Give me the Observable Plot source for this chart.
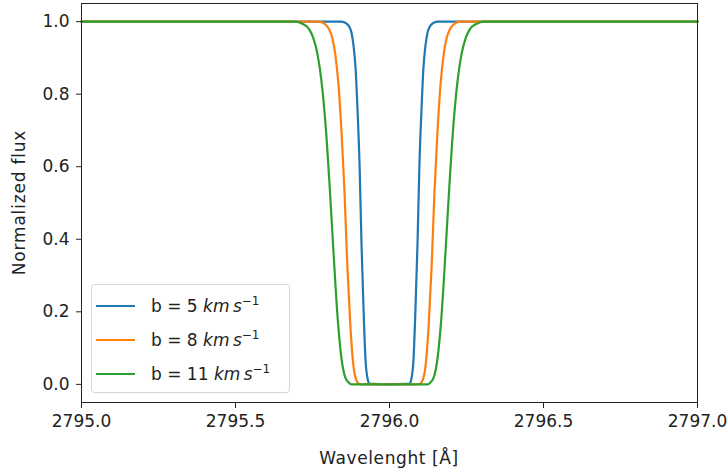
<!DOCTYPE html>
<html><head><meta charset="utf-8">
<script src="https://cdn.jsdelivr.net/npm/d3@7"></script>
<script src="https://cdn.jsdelivr.net/npm/@observablehq/plot@0.6"></script>
<style>body{margin:0;background:#fff} #chart svg{font-family:"DejaVu Sans";}</style>
</head><body><div id="chart"></div>
<script>
const seriesLabels = ["b = 5", "b = 8", "b = 11"];
const seriesColors = ["#1f77b4", "#ff7f0e", "#2ca02c"];

const wavelength_b5 = [2795.0, 2795.844, 2795.860, 2795.870, 2795.877, 2795.883, 2795.890, 2795.896, 2795.903, 2795.909, 2795.916, 2795.922, 2795.929, 2795.935, 2796.0, 2796.065, 2796.071, 2796.078, 2796.084, 2796.091, 2796.097, 2796.104, 2796.110, 2796.117, 2796.123, 2796.130, 2796.140, 2796.156, 2797.0];
const flux_b5 = [1.0, 1.0, 0.995, 0.985, 0.968, 0.935, 0.87, 0.76, 0.6, 0.39, 0.2, 0.07, 0.015, 0.002, 0.0, 0.002, 0.015, 0.07, 0.2, 0.39, 0.6, 0.76, 0.87, 0.935, 0.968, 0.985, 0.995, 1.0, 1.0];

const wavelength_b8 = [2795.0, 2795.772, 2795.792, 2795.805, 2795.815, 2795.824, 2795.834, 2795.844, 2795.854, 2795.863, 2795.873, 2795.883, 2795.893, 2795.902, 2795.909, 2796.0, 2796.091, 2796.098, 2796.107, 2796.117, 2796.127, 2796.137, 2796.146, 2796.156, 2796.166, 2796.176, 2796.185, 2796.195, 2796.208, 2796.228, 2797.0];
const flux_b8 = [1.0, 1.0, 0.992, 0.977, 0.953, 0.91, 0.83, 0.70, 0.53, 0.33, 0.16, 0.05, 0.01, 0.001, 0.0, 0.0, 0.0, 0.001, 0.01, 0.05, 0.16, 0.33, 0.53, 0.70, 0.83, 0.91, 0.953, 0.977, 0.992, 1.0, 1.0];

const wavelength_b11 = [2795.0, 2795.691, 2795.720, 2795.740, 2795.753, 2795.766, 2795.779, 2795.792, 2795.805, 2795.818, 2795.831, 2795.844, 2795.857, 2795.870, 2795.877, 2796.0, 2796.123, 2796.130, 2796.143, 2796.156, 2796.169, 2796.182, 2796.195, 2796.208, 2796.221, 2796.234, 2796.247, 2796.260, 2796.280, 2796.309, 2797.0];
const flux_b11 = [1.0, 1.0, 0.993, 0.978, 0.954, 0.911, 0.837, 0.72, 0.556, 0.367, 0.19, 0.072, 0.018, 0.003, 0.0, 0.0, 0.0, 0.003, 0.018, 0.072, 0.19, 0.367, 0.556, 0.72, 0.837, 0.911, 0.954, 0.978, 0.993, 1.0, 1.0];

const xTicks = [2795.0, 2795.5, 2796.0, 2796.5, 2797.0];
const yTicks = [0.0, 0.2, 0.4, 0.6, 0.8, 1.0];
const xTitle = "Wavelenght [Å]";
const yTitle = "Normalized flux";

const series = [[wavelength_b5, flux_b5], [wavelength_b8, flux_b8], [wavelength_b11, flux_b11]];
const rows = [];
series.forEach(([ws, fs], i) => ws.forEach((w, j) => rows.push({w, f: fs[j], s: seriesLabels[i]})));

const W = 728, H = 473, mL = 81, mR = 31, mT = 3, mB = 71;
const FS = 17;
const fmt = d3.format(".1f");
const chart = Plot.plot({
  width: W, height: H, marginLeft: mL, marginRight: mR, marginTop: mT, marginBottom: mB,
  style: {fontFamily: "DejaVu Sans", fontSize: FS + "px", color: "#222", background: "#fff"},
  x: {domain: [2795, 2797]},
  y: {domain: [-0.05, 1.05]},
  color: {domain: seriesLabels, range: seriesColors},
  marks: [
    Plot.line(rows, {x: "w", y: "f", z: "s", stroke: "s", curve: "monotone-x", strokeWidth: 2.2}),
    Plot.frame({stroke: "#222", strokeWidth: 1}),
    Plot.axisX({ticks: xTicks, tickFormat: fmt, tickSize: 6, tickPadding: 6, label: null, fontSize: FS}),
    Plot.axisY({ticks: yTicks, tickFormat: fmt, tickSize: 5, tickPadding: 7, label: null, fontSize: FS})
  ]
});
document.getElementById("chart").appendChild(chart);

const svg = d3.select(chart);
svg.append("text").attr("x", (mL + W - mR) / 2).attr("y", 458).attr("text-anchor", "middle")
  .attr("dy", "0.35em").attr("font-size", FS).attr("letter-spacing", "0.6px").attr("fill", "#222").text(xTitle);
svg.append("text").attr("transform", `translate(19,${(mT + H - mB) / 2}) rotate(-90)`)
  .attr("text-anchor", "middle").attr("dy", "0.35em").attr("font-size", FS).attr("letter-spacing", "0.8px")
  .attr("fill", "#222").text(yTitle);

const lg = svg.append("g");
lg.append("rect").attr("x", 91.5).attr("y", 284.5).attr("width", 198).attr("height", 108)
  .attr("rx", 3).attr("fill", "#fff").attr("fill-opacity", 0.8).attr("stroke", "#d5d5d5");
const rowY = [306, 340, 374];
seriesLabels.forEach((lab, i) => {
  lg.append("line").attr("x1", 96).attr("x2", 135).attr("y1", rowY[i]).attr("y2", rowY[i])
    .attr("stroke", seriesColors[i]).attr("stroke-width", 2.2);
  const t = lg.append("text").attr("x", 151).attr("y", rowY[i]).attr("dy", "0.35em")
    .attr("text-anchor", "start").attr("font-size", FS).attr("fill", "#222");
  t.append("tspan").text(lab + " ");
  t.append("tspan").attr("font-style", "italic").text("km");
  t.append("tspan").text("\u2009");
  t.append("tspan").attr("font-style", "italic").text("s");
  t.append("tspan").attr("font-size", 12).attr("dy", "-0.6em").text("\u22121");
});
</script>
</body></html>
